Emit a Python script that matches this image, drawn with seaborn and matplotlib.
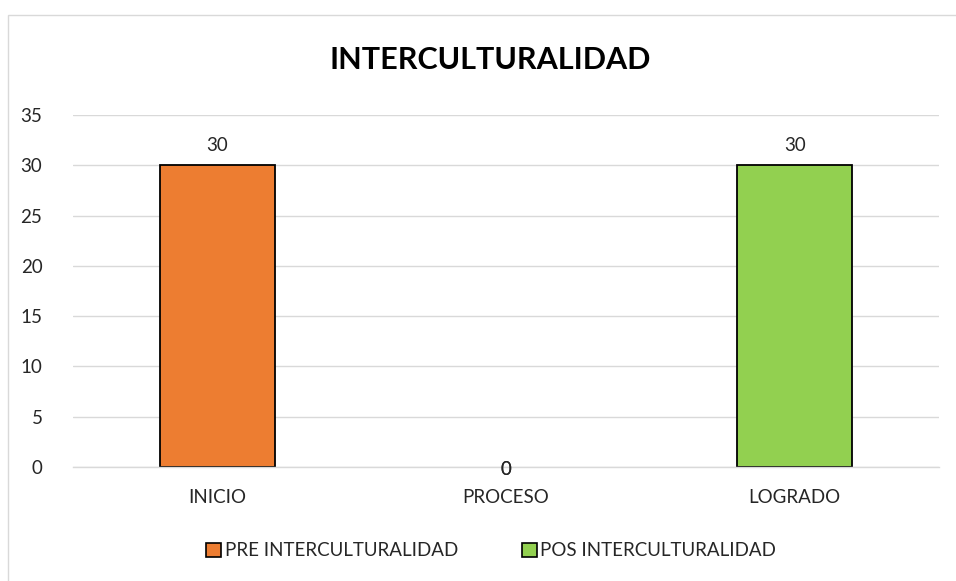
import numpy as np
import pandas as pd
import matplotlib
matplotlib.use("Agg")
import matplotlib.pyplot as plt
from matplotlib.patches import Rectangle, Patch
import seaborn as sns

# data
categories = ["INICIO", "PROCESO", "LOGRADO"]
series = ["PRE INTERCULTURALIDAD", "POS INTERCULTURALIDAD"]
pre_values = [30, 0, np.nan]
pos_values = [np.nan, 0, 30]
colors = ["#ED7D31", "#92D050"]

df = pd.DataFrame({
    "cat": categories * 2,
    "serie": [series[0]] * 3 + [series[1]] * 3,
    "valor": pre_values + pos_values,
}).dropna()

sns.set_theme(style="white")
plt.rcParams["font.family"] = ["Lato", "DejaVu Sans"]

fig = plt.figure(figsize=(9.56, 5.81), dpi=100)
ax = fig.add_axes([73 / 956, 1 - 467 / 581, 866 / 956, 352 / 581])

sns.barplot(data=df, x="cat", y="valor", hue="serie", order=categories,
            hue_order=series, palette=colors, dodge=False, width=0.4,
            saturation=1, edgecolor="black", linewidth=1.3, ax=ax, legend=False)

# etiquetas de datos; las barras en cero no llevan borde
for cont in ax.containers:
    texts = ax.bar_label(cont, fmt="%.0f", padding=8, fontsize=13.5, color="#262626")
    for bar, t, v in zip(cont, texts, cont.datavalues):
        if v == 0:
            bar.set_linewidth(0)
            t.xyann = (0, -8)

ax.set_ylim(0, 35)
ax.set_yticks(range(0, 36, 5))
ax.set_xlabel("")
ax.set_ylabel("")
ax.yaxis.grid(True, color="#D9D9D9", linewidth=1)
ax.set_axisbelow(True)
for s in ["top", "right", "left"]:
    ax.spines[s].set_visible(False)
ax.spines["bottom"].set_color("#D9D9D9")
ax.spines["bottom"].set_linewidth(1)
ax.tick_params(axis="y", length=0, pad=22, labelsize=13.5, labelcolor="#262626")
ax.tick_params(axis="x", length=0, pad=16, labelsize=13.5, labelcolor="#262626")

fig.text(490 / 956, 1 - 60 / 581, "INTERCULTURALIDAD", ha="center", va="center",
         fontsize=22, fontweight="bold", color="black")

handles = [Patch(facecolor=c, edgecolor="black", linewidth=1.2) for c in colors]
fig.legend(handles, series, loc="center", bbox_to_anchor=(491 / 956, 1 - 551 / 581),
           ncol=2, frameon=False, fontsize=13.5, handlelength=0.8, handleheight=0.8,
           handletextpad=0.2, columnspacing=3.4, labelcolor="#262626")

fig.patches.append(Rectangle((8 / 956, -0.1), 1.2, 1.1 - 15 / 581, transform=fig.transFigure,
                             fill=False, edgecolor="#D9D9D9", linewidth=1))

fig.savefig("out.png", dpi=100, facecolor="white")
